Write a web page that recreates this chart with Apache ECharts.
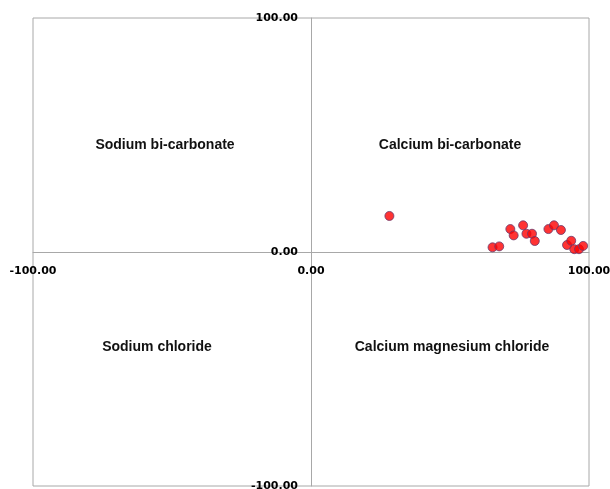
<!doctype html>
<html>
<head>
  <meta charset="utf-8">
  <script src="https://cdn.jsdelivr.net/npm/echarts@6/dist/echarts.min.js"></script>
  <style>
    body { margin: 0; background: #fff; }
  </style>
</head>
<body>
  <div id="main" style="width:610px;height:489px;"></div>
  <script>
  // sample points (x, y)
  var xValues = [28.2, 65.3, 67.7, 71.7, 72.9, 76.3, 77.5, 79.5, 80.5, 85.4, 87.4, 89.9, 92.1, 93.6, 94.7, 96.4, 97.9];
  var yValues = [15.4, 2.0, 2.4, 9.8, 7.1, 11.4, 7.8, 7.8, 4.7, 9.8, 11.4, 9.4, 3.0, 4.8, 1.2, 1.2, 2.6];
  var quadrantNames = ['Sodium bi-carbonate', 'Calcium bi-carbonate', 'Sodium chloride', 'Calcium magnesium chloride'];
  var axisMin = -100, axisMax = 100, axisStep = 100;

  var points = [];
  for (var i = 0; i < xValues.length; i++) {
    points.push([xValues[i], yValues[i]]);
  }

  var W = 610, H = 489;
  var gLeft = 33, gRight = 21, gTop = 18, gBottom = 3;
  // move the axes into the middle of the plot (where 0 sits)
  var halfW = (W - gLeft - gRight) / 2;
  var halfH = (H - gTop - gBottom) / 2;

  var lineColor = '#a8a8a8';
  var labelFont = {
    color: '#000',
    fontFamily: 'DejaVu Sans',
    fontWeight: 'bold',
    fontSize: 11
  };
  function fmt(v) { return v.toFixed(2); }

  var quadText = function (text, x, y) {
    return {
      type: 'text',
      x: x,
      y: y,
      style: {
        text: text,
        fill: '#111',
        font: 'bold 14px "Liberation Sans"',
        textAlign: 'center',
        textVerticalAlign: 'middle'
      }
    };
  };

  var option = {
    animation: false,
    grid: {
      left: gLeft, right: gRight, top: gTop, bottom: gBottom,
      outerBoundsMode: 'none',
      containLabel: false,
      show: true,
      borderColor: lineColor,
      borderWidth: 1
    },
    xAxis: {
      type: 'value',
      position: 'bottom',
      offset: -halfH,
      min: axisMin, max: axisMax, interval: axisStep,
      axisLine: { onZero: false, lineStyle: { color: lineColor } },
      axisTick: { show: false },
      splitLine: { show: false },
      axisLabel: Object.assign({ margin: 14, formatter: fmt }, labelFont)
    },
    yAxis: {
      type: 'value',
      position: 'left',
      offset: -halfW,
      min: axisMin, max: axisMax, interval: axisStep,
      axisLine: { onZero: false, lineStyle: { color: lineColor } },
      axisTick: { show: false },
      splitLine: { show: false },
      axisLabel: Object.assign({ margin: 13, formatter: fmt }, labelFont)
    },
    graphic: [
      quadText(quadrantNames[0], 165, 145),
      quadText(quadrantNames[1], 450, 145),
      quadText(quadrantNames[2], 157, 347),
      quadText(quadrantNames[3], 452, 347)
    ],
    series: [{
      type: 'scatter',
      symbolSize: 9,
      itemStyle: {
        color: '#ff0000',
        borderColor: '#6b3a6b',
        borderWidth: 1
      },
      data: points
    }]
  };

  var myChart = echarts.init(document.getElementById('main'));
  myChart.setOption(option);
  </script>
</body>
</html>
